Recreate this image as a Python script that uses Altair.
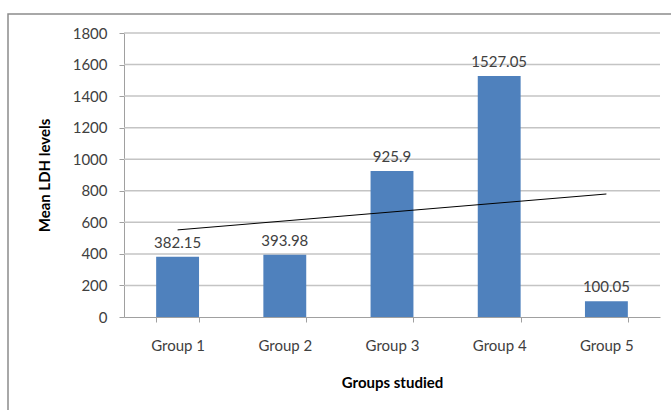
import altair as alt
import pandas as pd

groups = ["Group 1", "Group 2", "Group 3", "Group 4", "Group 5"]
group_index = [1, 2, 3, 4, 5]
ldh_means = [382.15, 393.98, 925.9, 1527.05, 100.05]
y_ticks = [0, 200, 400, 600, 800, 1000, 1200, 1400, 1600, 1800]

df = pd.DataFrame({"group": groups, "idx": group_index, "ldh": ldh_means})
grid_df = pd.DataFrame({"tick": y_ticks[1:]})

FONT = "Lato"
FS = 15
W, H = 536, 284

y_scale = alt.Scale(domain=[0, 1800], nice=False)
y_axis = alt.Axis(
    values=y_ticks,
    format="d",
    labelOverlap=False,
    labelFlush=False,
    grid=False,
    titleX=-72,
)

x_enc = alt.X(
    "group:N",
    sort=groups,
    title="Groups studied",
    scale=alt.Scale(paddingInner=0.6, paddingOuter=0.3),
    axis=alt.Axis(
        labelAngle=0,
        labelPadding=16,
        tickBand="extent",
        titleY=58,
        grid=False,
    ),
)

y_axis_enc = alt.Y("ldh:Q", title="Mean LDH levels", scale=y_scale, axis=y_axis)
y_plain = alt.Y("ldh:Q", scale=y_scale, axis=None)

base = alt.Chart(df)

gridlines = alt.Chart(grid_df).mark_rule(color="#c4c4c4", strokeWidth=1.5).encode(
    y=alt.Y("tick:Q", scale=y_scale, axis=None)
)

bars = base.mark_bar(color="#4F81BD").encode(x=x_enc, y=y_axis_enc)

labels = base.mark_text(
    baseline="bottom", dy=-6, font=FONT, fontSize=FS, color="#404040"
).encode(
    x=alt.X("group:N", sort=groups, axis=None),
    y=y_plain,
    text=alt.Text("ldh:N"),
)

trend = (
    base.transform_regression("idx", "ldh", method="linear")
    .transform_calculate(group="'Group ' + round(datum.idx)")
    .mark_line(color="#000000", strokeWidth=1)
    .encode(x=alt.X("group:N", sort=groups, axis=None), y=y_plain)
)

border = base.mark_rect(
    fill="white", fillOpacity=0, stroke="#8c8c8c", strokeWidth=1.5, clip=False
).encode(
    x=alt.value(-116), x2=alt.value(560), y=alt.value(-19), y2=alt.value(430)
).transform_filter("datum.idx == 1")

chart = (
    alt.layer(border, gridlines, bars, trend, labels)
    .resolve_scale(y="shared", x="shared")
    .resolve_axis(y="independent", x="independent")
    .properties(
        width=W,
        height=H,
        autosize=alt.AutoSizeParams(type="none"),
        padding={"left": 124, "top": 33, "right": 11, "bottom": 93},
        background="white",
    )
    .configure_view(stroke=None)
    .configure_axis(
        labelFont=FONT,
        labelFontSize=FS,
        labelColor="#404040",
        tickSize=5,
        tickColor="#a0a0a0",
        domainColor="#a0a0a0",
        titleFont=FONT,
        titleFontSize=FS,
        titleFontWeight="bold",
        titleColor="#000000",
    )
    .configure_axisY(labelPadding=12)
)

chart.save("out.html", embed_options={"renderer": "svg", "actions": False})
